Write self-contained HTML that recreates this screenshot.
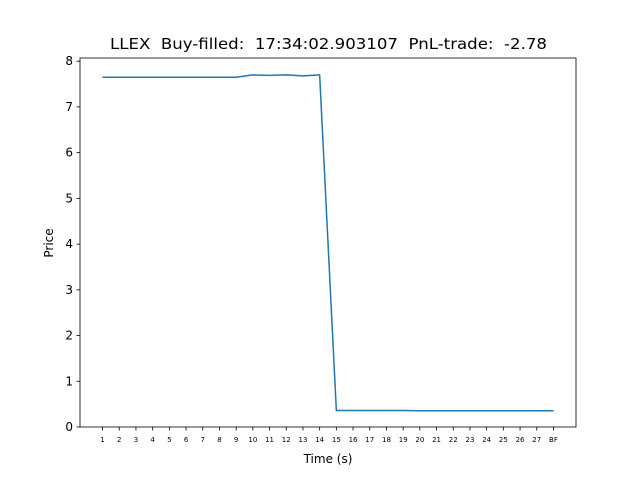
<!DOCTYPE html>
<html><head><meta charset="utf-8"><style>
body{margin:0;background:#fff;}
svg{font-family:"DejaVu Sans","Liberation Sans",sans-serif;}
</style></head><body>
<svg id="chart" width="640" height="480" viewBox="0 0 640 480">
<rect width="640" height="480" fill="#fff"/>
<text x="328.5" y="49" font-size="15.5" text-anchor="middle" textLength="437" lengthAdjust="spacingAndGlyphs" xml:space="preserve">LLEX  Buy-filled:  17:34:02.903107  PnL-trade:  -2.78</text>
<g id="axes"></g>
<text x="328" y="463" font-size="12" text-anchor="middle">Time (s)</text>
<text x="53" y="243" font-size="12" text-anchor="middle" transform="rotate(-90 53 243)">Price</text>
</svg>
<script>
const categories=["1","2","3","4","5","6","7","8","9","10","11","12","13","14","15","16","17","18","19","20","21","22","23","24","25","26","27","BF"];
const prices=[7.65,7.65,7.65,7.65,7.65,7.65,7.65,7.65,7.65,7.70,7.69,7.70,7.68,7.70,0.36,0.36,0.36,0.36,0.36,0.355,0.355,0.355,0.355,0.355,0.355,0.355,0.355,0.355];
const yTicks=[0,1,2,3,4,5,6,7,8];
const L=80,R=576,T=58,B=427;
const n=categories.length;
const xmin=-0.05*(n-1),xmax=(n-1)*1.05;
const ymin=0,ymax=8.07;
function xs(i){return L+(i-xmin)/(xmax-xmin)*(R-L);}
function ys(v){return B-(v-ymin)/(ymax-ymin)*(B-T);}
const NS="http://www.w3.org/2000/svg";
const g=document.getElementById('axes');
function mk(t,a){const e=document.createElementNS(NS,t);for(const k in a)e.setAttribute(k,a[k]);g.appendChild(e);return e;}
yTicks.forEach(v=>{
 const y=ys(v);
 const tk=mk('line',{x1:L-3.5,x2:L,y1:y,y2:y,stroke:'#000','stroke-width':0.8});
 
 
 const t=mk('text',{x:L-7,y:y+4,'font-size':12,'text-anchor':'end'});
 t.textContent=v;
 
 
});
categories.forEach((c,i)=>{
 const x=xs(i);
 const tk=mk('line',{x1:x,x2:x,y1:B,y2:B+3.5,stroke:'#000','stroke-width':0.8});
 
 
 const t=mk('text',{x:x,y:B+15,'font-size':7,'text-anchor':'middle'});
 t.textContent=c;
 
 
});
const pts=prices.map((v,i)=>xs(i).toFixed(2)+','+ys(v).toFixed(2)).join(' ');
const line=mk('polyline',{points:pts,fill:'none',stroke:'#1f77b4','stroke-width':1.5,'stroke-linejoin':'round'});


const fr=mk('rect',{x:L,y:T,width:R-L,height:B-T,fill:'none',stroke:'#000','stroke-width':0.8});


</script>
</body></html>
